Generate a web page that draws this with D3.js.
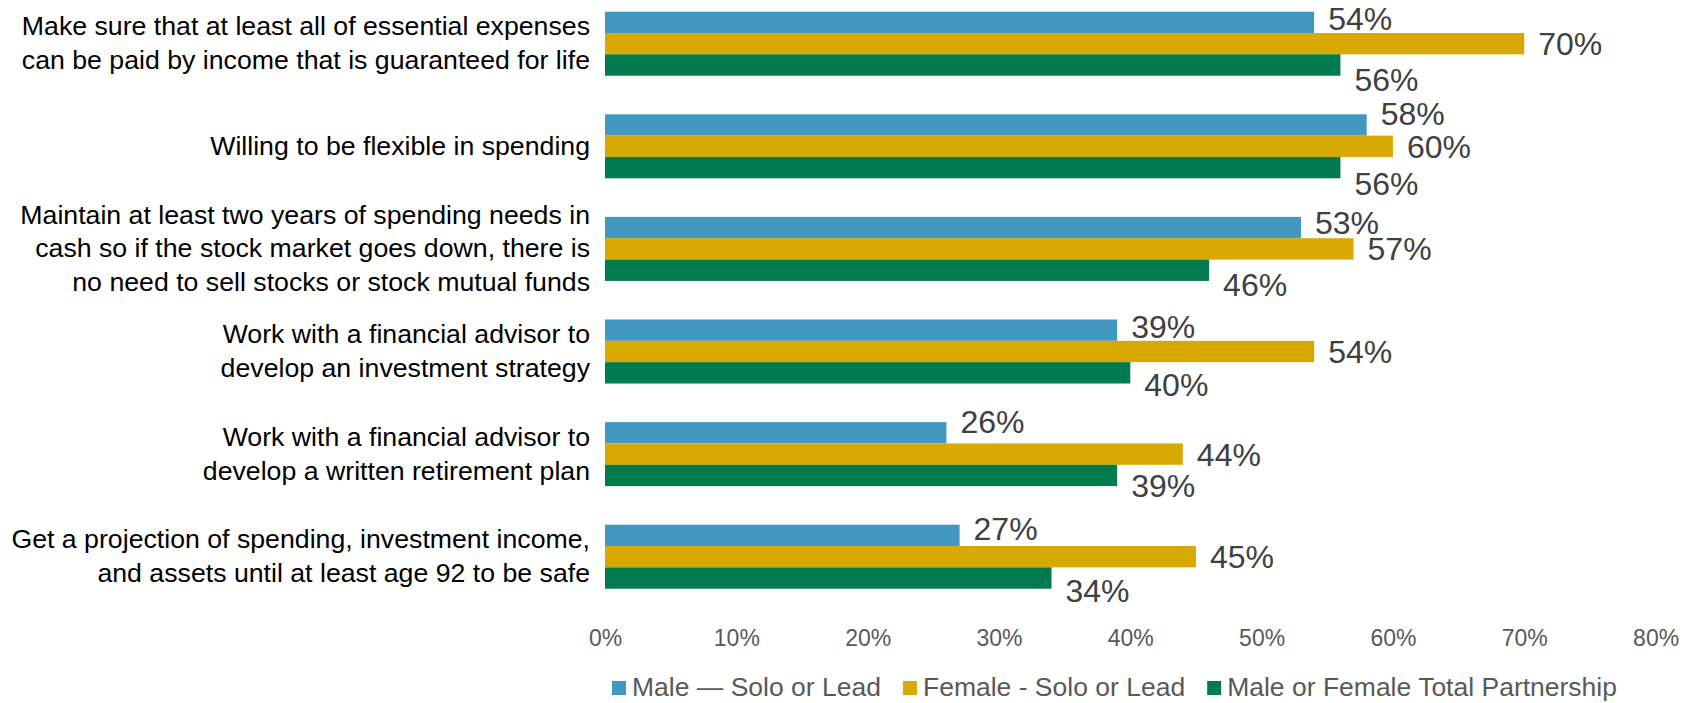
<!DOCTYPE html>
<html>
<head>
<meta charset="utf-8">
<script src="https://cdn.jsdelivr.net/npm/d3@7"></script>
<style>
  html, body { margin: 0; padding: 0; background: #ffffff; }
  svg { display: block; }
</style>
</head>
<body>
<svg id="chart" width="1687" height="703"></svg>
<script>
// Retirement strategies by household decision-maker
const categories = [
  ["Make sure that at least all of essential expenses", "can be paid by income that is guaranteed for life"],
  ["Willing to be flexible in spending"],
  ["Maintain at least two years of spending needs in", "cash so if the stock market goes down, there is", "no need to sell stocks or stock mutual funds"],
  ["Work with a financial advisor to", "develop an investment strategy"],
  ["Work with a financial advisor to", "develop a written retirement plan"],
  ["Get a projection of spending, investment income,", "and assets until at least age 92 to be safe"]
];
const seriesNames = ["Male \u2014 Solo or Lead", "Female - Solo or Lead", "Male or Female Total Partnership"];
const maleSolo      = [54, 58, 53, 39, 26, 27];
const femaleSolo    = [70, 60, 57, 54, 44, 45];
const partnership   = [56, 56, 46, 40, 39, 34];
const seriesValues  = [maleSolo, femaleSolo, partnership];
const xTicks = [0, 10, 20, 30, 40, 50, 60, 70, 80];

const colors = ["#4398C2", "#D8A900", "#007B4E"];
// vertical nudges that keep the three stacked value labels apart
const labelNudge = [
  [-4, -11, -5, -4, -11, -7],
  [0, 0, 0, 0, 0, 0],
  [14, 16, 14, 12, 10, 12]
];

const svg = d3.select("#chart");
const font = "'Liberation Sans', Arial, sans-serif";

const x = d3.scaleLinear().domain([0, 80]).range([605, 1655.6]);
const y = d3.scaleBand()
  .domain(d3.range(categories.length))
  .range([-7.6, 608])
  .paddingInner(0.376)
  .paddingOuter(0.188);
const ySub = d3.scaleBand().domain(d3.range(seriesNames.length)).range([0, y.bandwidth()]);

const rows = categories.map((c, i) => ({ i, lines: c, vals: seriesValues.map(s => s[i]) }));

const group = svg.append("g").selectAll("g.row")
  .data(rows).join("g")
  .attr("class", "row")
  .attr("transform", d => `translate(0,${y(d.i)})`);

// bars
group.selectAll("rect")
  .data(d => d.vals.map((v, k) => ({ v, k, i: d.i })))
  .join("rect")
  .attr("x", x(0))
  .attr("y", d => ySub(d.k))
  .attr("width", d => x(d.v) - x(0))
  .attr("height", ySub.bandwidth())
  .attr("fill", d => colors[d.k]);

// value labels
group.selectAll("text.val")
  .data(d => d.vals.map((v, k) => ({ v, k, i: d.i })))
  .join("text")
  .attr("class", "val")
  .attr("x", d => x(d.v) + 14)
  .attr("y", d => ySub(d.k) + ySub.bandwidth() / 2 + labelNudge[d.k][d.i] + 11.5)
  .attr("font-family", font)
  .attr("font-size", 32)
  .attr("fill", "#404040")
  .text(d => d.v + "%");

// category labels
const lineH = 34;
group.append("text")
  .attr("text-anchor", "end")
  .attr("font-family", font)
  .attr("font-size", 26.7)
  .attr("fill", "#000000")
  .each(function(d) {
    const t = d3.select(this);
    const n = d.lines.length;
    d.lines.forEach((ln, j) => {
      t.append("tspan")
        .attr("x", 590)
        .attr("y", y.bandwidth() / 2 + (j - (n - 1) / 2) * lineH + 8.6)
        .text(ln);
    });
  });

// x axis labels
const axis = svg.append("g")
  .attr("transform", "translate(0,630)")
  .call(d3.axisBottom(x).tickValues(xTicks).tickSize(0).tickPadding(0).tickFormat(d => d + "%"));
axis.select(".domain").remove();
axis.selectAll("text")
  .attr("font-family", font)
  .attr("font-size", 23)
  .attr("fill", "#595959")
  .attr("dy", null)
  .attr("y", 16);

// legend
const legend = svg.append("g").attr("transform", "translate(612,696)");
let lx = 0;
seriesNames.forEach((name, k) => {
  const item = legend.append("g").attr("transform", `translate(${lx},0)`);
  item.append("rect").attr("x", 0).attr("y", -15).attr("width", 14).attr("height", 14).attr("fill", colors[k]);
  const t = item.append("text")
    .attr("x", 20).attr("y", 0)
    .attr("font-family", font).attr("font-size", 26.5).attr("fill", "#595959")
    .text(name);
  lx += 20 + t.node().getComputedTextLength() + 22;
});
</script>
</body>
</html>
